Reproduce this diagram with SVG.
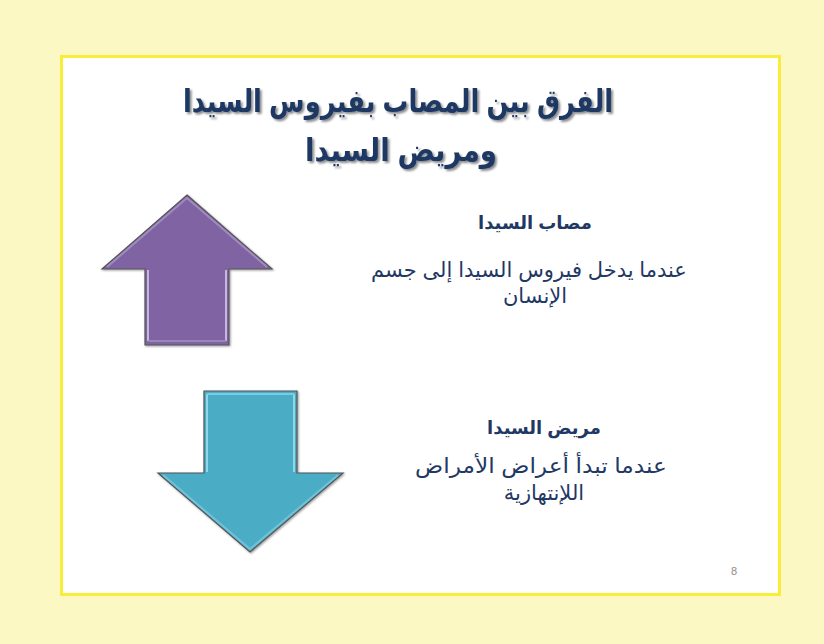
<svg xmlns="http://www.w3.org/2000/svg" width="824" height="644" viewBox="0 0 824 644">
<defs>
<style>
.t{font-family:"Liberation Sans","DejaVu Sans",sans-serif;fill:#1F3864;text-anchor:middle;direction:rtl}
.title{font-size:32px;font-weight:bold}
.sub{font-size:18px;font-weight:bold}
.body{font-size:21px}
.hl{fill:none;stroke-width:2;stroke-linejoin:round}
</style>
<filter id="sh" x="-5%" y="-20%" width="110%" height="140%">
<feDropShadow dx="2" dy="2" stdDeviation="1.2" flood-color="#000" flood-opacity="0.45"/>
</filter>
<filter id="ash" x="-10%" y="-10%" width="120%" height="120%">
<feDropShadow dx="1" dy="1" stdDeviation="1" flood-color="#000" flood-opacity="0.4"/>
</filter>
</defs>
<rect x="0" y="0" width="824" height="644" fill="#FCF8C4"/>
<rect x="61.5" y="56.5" width="718" height="538" fill="#FFFFFF" stroke="#F8EE3A" stroke-width="3"/>
<g id="title">
<text class="t title" x="398" y="112" textLength="430" lengthAdjust="spacingAndGlyphs" filter="url(#sh)">الفرق بين المصاب بفيروس السيدا</text>
<text class="t title" x="401" y="161" textLength="192" lengthAdjust="spacingAndGlyphs" filter="url(#sh)">ومريض السيدا</text>
</g>
<g id="up-arrow">
<polygon points="187,195 272,269 229,269 229,345 145,345 145,269 102,269" fill="#8064A2" stroke="#555" stroke-width="1.2" filter="url(#ash)"/>
<polyline class="hl" points="107,267 187,198 267,267" stroke="#A08BC0"/>
<line class="hl" x1="148" y1="270" x2="148" y2="341" stroke="#C7B6E0"/>
<line class="hl" x1="226" y1="270" x2="226" y2="341" stroke="#C7B6E0"/>
<line class="hl" x1="148" y1="341" x2="226" y2="341" stroke="#9A86BA"/>
</g>
<g id="down-arrow">
<polygon points="204,391 297,391 297,473 343,473 250,552 158,473 204,473" fill="#4BACC6" stroke="#555" stroke-width="1.2" filter="url(#ash)"/>
<line class="hl" x1="207" y1="394" x2="207" y2="472" stroke="#8FD6EA"/>
<line class="hl" x1="294" y1="394" x2="294" y2="472" stroke="#8FD6EA"/>
<line class="hl" x1="207" y1="394" x2="294" y2="394" stroke="#7CCBE0"/>
<polyline class="hl" points="163,475 250,549 338,475" stroke="#6FC2D9"/>
</g>
<g id="infected">
<text class="t sub" x="535" y="229">مصاب السيدا</text>
<text class="t body" x="529" y="277">عندما يدخل فيروس السيدا إلى جسم</text>
<text class="t body" x="535" y="303">الإنسان</text>
</g>
<g id="patient">
<text class="t sub" x="544" y="434">مريض السيدا</text>
<text class="t body" x="541" y="473" textLength="252" lengthAdjust="spacingAndGlyphs">عندما تبدأ أعراض الأمراض</text>
<text class="t body" x="544" y="500">اللإنتهازية</text>
</g>
<text x="734" y="575" font-family="Liberation Sans, sans-serif" font-size="11" fill="#8C8C8C" text-anchor="middle">8</text>
<g id="connectors"/>
</svg>
